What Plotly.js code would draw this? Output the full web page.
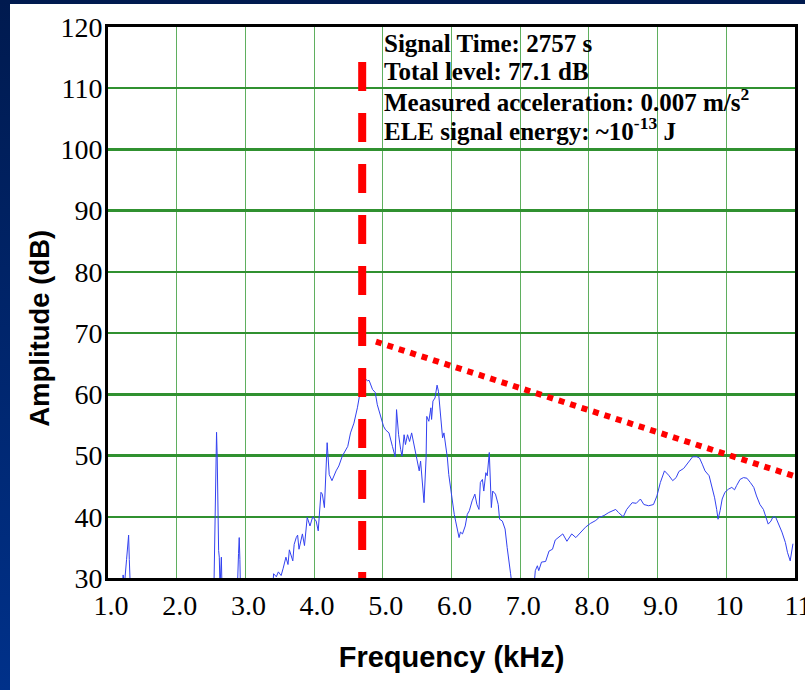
<!DOCTYPE html>
<html>
<head>
<meta charset="utf-8">
<script src="https://cdn.plot.ly/plotly-3.0.1.min.js"></script>
<style>
  html, body { margin: 0; padding: 0; width: 805px; height: 690px; overflow: hidden;
    background: linear-gradient(#001a4f, #00318a); }
  #chart { position: absolute; left: 10px; top: 4px; width: 795px; height: 686px; background: #fff; }
</style>
</head>
<body>
<div id="chart"></div>
<script>
// Spectrum (kHz, dB); values below 30 dB fall under the axis
const freq = [1.00,1.20,1.22,1.24,1.27,1.30,1.31,1.33,1.60,2.20,2.54,2.56,2.57,2.58,2.59,2.60,2.61,2.62,2.63,2.65,2.66,2.75,2.88,2.90,2.91,2.92,2.93,3.15,3.40,3.41,3.45,3.48,3.52,3.55,3.59,3.62,3.64,3.69,3.71,3.74,3.76,3.78,3.83,3.86,3.90,3.94,3.98,4.03,4.06,4.10,4.12,4.15,4.17,4.19,4.22,4.26,4.32,4.36,4.41,4.49,4.53,4.58,4.63,4.66,4.71,4.76,4.78,4.80,4.85,4.89,4.92,4.97,5.01,5.04,5.09,5.14,5.18,5.20,5.23,5.26,5.28,5.31,5.33,5.36,5.39,5.42,5.44,5.47,5.50,5.53,5.55,5.58,5.60,5.63,5.64,5.67,5.70,5.71,5.73,5.76,5.79,5.81,5.84,5.87,5.89,5.92,5.94,5.96,5.99,6.01,6.04,6.06,6.11,6.13,6.16,6.20,6.23,6.26,6.30,6.34,6.37,6.40,6.42,6.45,6.47,6.50,6.52,6.55,6.56,6.58,6.60,6.64,6.68,6.70,6.74,6.78,6.81,6.84,6.86,6.89,7.05,7.20,7.22,7.25,7.27,7.31,7.37,7.42,7.47,7.51,7.56,7.62,7.68,7.75,7.81,7.88,7.95,8.02,8.10,8.15,8.22,8.29,8.39,8.43,8.50,8.55,8.63,8.69,8.75,8.80,8.87,8.94,8.99,9.04,9.10,9.16,9.22,9.27,9.31,9.38,9.43,9.48,9.51,9.57,9.61,9.65,9.69,9.75,9.79,9.83,9.86,9.88,9.91,9.94,9.98,10.03,10.08,10.12,10.15,10.20,10.25,10.30,10.35,10.40,10.44,10.49,10.54,10.58,10.61,10.65,10.68,10.72,10.75,10.81,10.86,10.89,10.93,10.95,10.97];
const amplitude = [26,27,30.5,29,33,37,33,27,26,26,27,41,48.5,53.8,49.6,40.7,34.5,33.4,28.5,33.4,28,26,27,34,36.6,33,27,26,28.5,30.7,30.2,31,30.4,31.6,33.4,32.2,34.6,32.8,35.5,36.6,37,34.7,37.2,35.3,39.9,38.5,40,39.3,37.7,44,43.7,41.5,46.9,52.1,46.9,45.9,47.5,48.3,49.9,51.5,53.7,55.3,57.8,59.7,61.5,62.4,62.2,62.3,60.8,60.3,58.3,56.4,54.8,54.2,53.7,51.5,49.8,57.5,53.4,51,49.9,53.4,51.8,53.4,52.3,53.7,52.6,51,48.8,47.5,49.1,44.5,42.3,49.6,56.4,55.6,57.8,55.9,58.9,59.4,61.5,60.5,56.7,52.9,53.7,51.3,49.6,46.9,44.2,43.1,40.4,39.3,36.6,37.5,37.2,38.5,40.4,41,42.6,43.7,42,41.2,45.6,46.1,44.2,47.2,46.7,50.5,48,41.5,44.2,43.7,42,39.6,39.3,38,35,32.8,30.7,28,26,28.5,31.2,32,31.2,32.6,32.7,34.4,34.7,36.2,36.6,37.2,36,37.2,36.6,37.5,38.3,38.9,39.4,39.9,40.2,40.7,41.2,40.7,40,41.2,42.3,42.2,42.9,42,41.8,42,43.4,45.6,47.5,46.8,45.9,46.4,47.4,47.9,48.6,49.4,49.8,49.8,49.6,48.6,47.5,46.7,45,43.1,41.2,39.6,41,42.9,44,44.5,44.8,44.4,45.1,46.1,46.4,46.3,45.6,44.8,43.4,42,41.2,39.9,38.8,39.3,40,39.9,39.1,37.5,35.8,34.2,32.8,34.5,35.6];

// Red vertical marker (dashed) and red trend (dotted)
const markerFreq = [4.70, 4.70];
const markerAmp = [114.3, 30];
const trendFreq = [4.90, 11.0];
const trendAmp = [68.6, 46.6];

// Axis ticks
const xTickVals = [1,2,3,4,5,6,7,8,9,10,11];
const xTickText = ['1.0','2.0','3.0','4.0','5.0','6.0','7.0','8.0','9.0','10','11'];
const yTickVals = [30,40,50,60,70,80,90,100,110,120];

// Annotation lines
const infoLines = [
  'Signal Time: 2757 s',
  'Total level: 77.1 dB',
  'Measured acceleration: 0.007 m/s<sup>2</sup>',
  'ELE signal energy: ~10<sup>-13</sup> J'
];
const infoY = [117.3, 112.7, 108.1, 103.4];
const infoX = 5.0;

const serif = 'Liberation Serif, Times New Roman, serif';
const sans = 'Liberation Sans, Arial, sans-serif';

const traces = [
  { x: freq, y: amplitude, type: 'scatter', mode: 'lines',
    line: { color: 'rgb(50,65,240)', width: 1 }, hoverinfo: 'skip' },
  { x: markerFreq, y: markerAmp, type: 'scatter', mode: 'lines',
    line: { color: '#ff0000', width: 8, dash: '29px,22px' }, hoverinfo: 'skip' },
  { x: trendFreq, y: trendAmp, type: 'scatter', mode: 'lines',
    line: { color: '#ff0000', width: 6, dash: '6px,6px' }, hoverinfo: 'skip' }
];

const annotations = infoLines.map((t, i) => ({
  x: infoX, y: infoY[i], xref: 'x', yref: 'y', xanchor: 'left', yanchor: 'middle',
  text: '<b>' + t + '</b>', showarrow: false,
  font: { family: serif, size: 25, color: '#000' }, borderpad: 0
}));
annotations.push({
  x: -0.099, y: 0.454, xref: 'paper', yref: 'paper', xanchor: 'center', yanchor: 'middle',
  text: '<b>Amplitude (dB)</b>', textangle: -90, showarrow: false,
  font: { family: sans, size: 27.5, color: '#000' }
});

const layout = {
  width: 795, height: 686,
  margin: { l: 98, r: 10, t: 23, b: 112 },
  paper_bgcolor: '#ffffff', plot_bgcolor: '#ffffff',
  showlegend: false,
  xaxis: {
    range: [1, 11], tickmode: 'array', tickvals: xTickVals, ticktext: xTickText,
    showgrid: true, gridcolor: 'rgb(95,175,95)', gridwidth: 1,
    showline: true, linecolor: '#000', linewidth: 3, mirror: true,
    zeroline: false, ticks: '', ticklabeloverflow: 'allow', ticklabelshift: 3,
    tickfont: { family: serif, size: 28, color: '#000' },
    title: { text: '<b>Frequency (kHz)</b>', font: { family: sans, size: 29, color: '#000' }, standoff: 28 }
  },
  yaxis: {
    range: [30, 120], tickmode: 'array', tickvals: yTickVals,
    showgrid: true, gridcolor: 'rgb(48,145,48)', gridwidth: 2.5,
    showline: true, linecolor: '#000', linewidth: 3, mirror: true,
    zeroline: false, ticks: '', ticklabelstandoff: -3,
    tickfont: { family: serif, size: 28, color: '#000' }
  },
  annotations: annotations
};

Plotly.newPlot('chart', traces, layout, { staticPlot: true, displayModeBar: false });
</script>
</body>
</html>
